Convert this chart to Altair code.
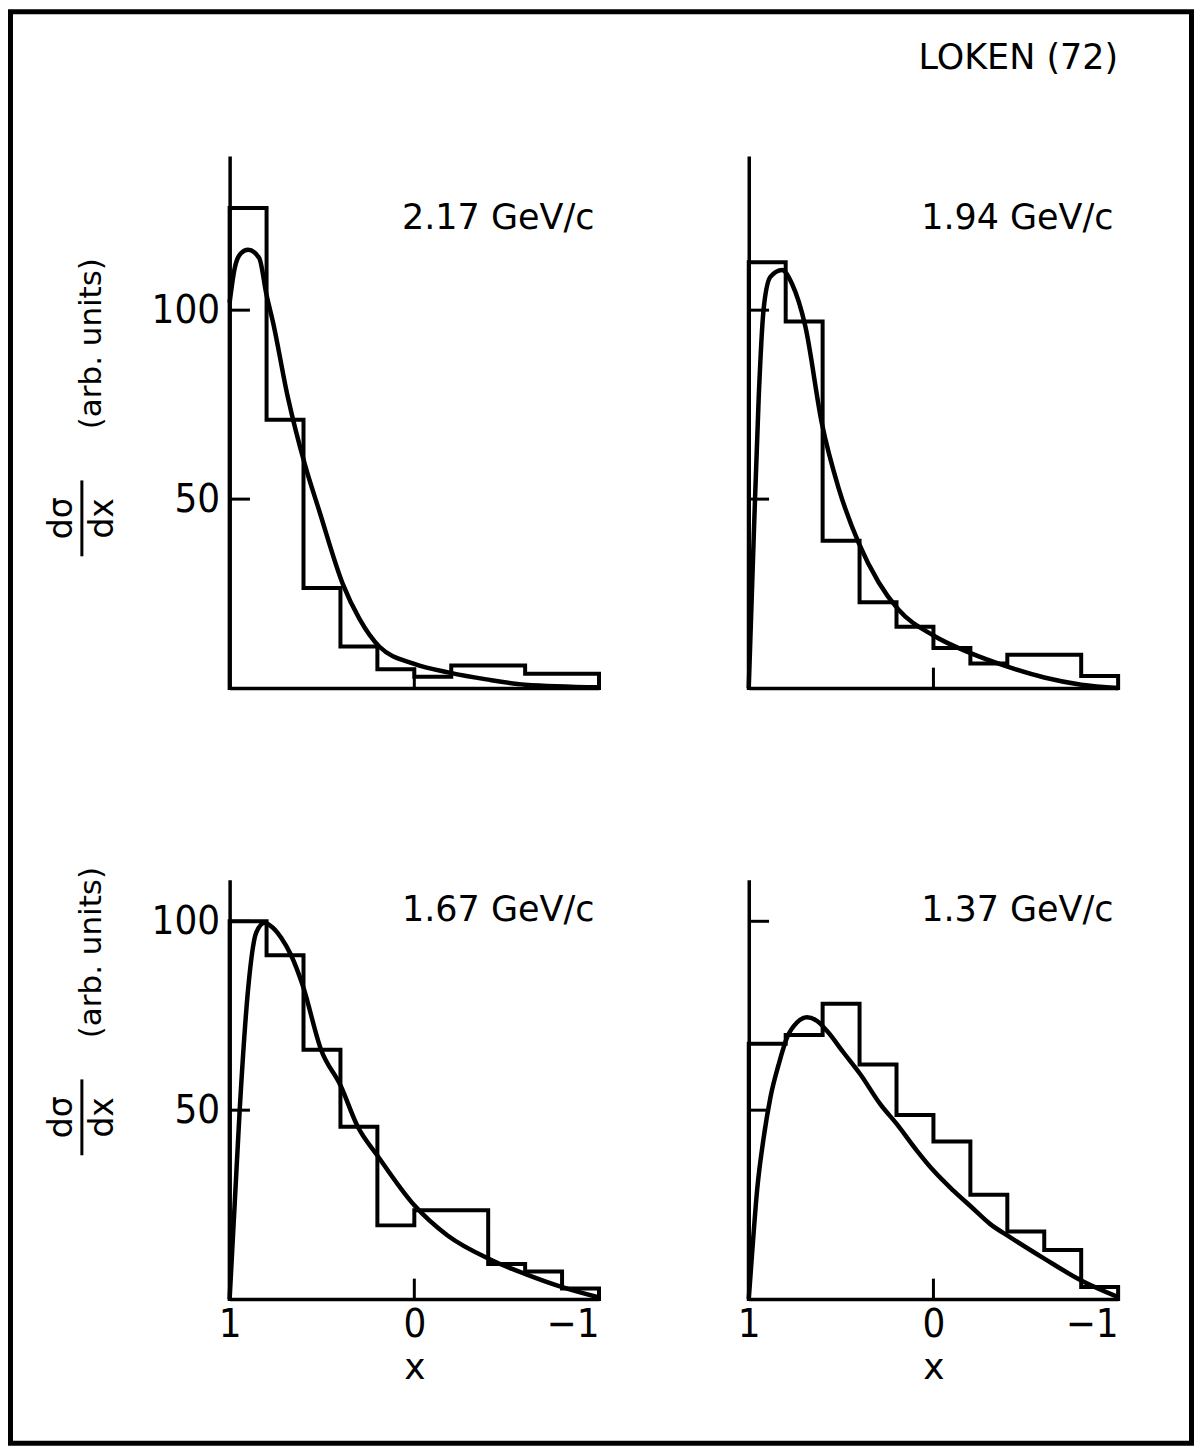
import altair as alt
import pandas as pd

# ---------------- data ----------------
bin_edges = [1.0, 0.8, 0.6, 0.4, 0.2, 0.0, -0.2, -0.4, -0.6, -0.8, -1.0]

hist_217 = [127, 71, 26.5, 11, 5, 3, 6, 6, 3.8, 3.8]
hist_194 = [112.7, 97, 39, 22.7, 16.2, 10.6, 6.5, 8.8, 8.8, 3.2]
hist_167 = [100, 91, 66, 45.6, 19.5, 23.5, 23.5, 9.3, 7.3, 2.8]
hist_137 = [67.6, 69.9, 78.2, 62.1, 48.7, 41.7, 27.6, 17.9, 13, 3.2]

curve_217_x = [1.0, 0.973, 0.94, 0.90, 0.84, 0.80, 0.766, 0.685, 0.59, 0.514,
               0.387, 0.297, 0.19, 0.0, -0.19, -0.39, -0.6, -1.0]
curve_217_y = [102, 111, 115, 116, 113.8, 104, 97, 77, 58.7, 46.8,
               27.5, 18.3, 11, 6.4, 4.1, 2.3, 0.9, 0.2]

curve_194_x = [1.0, 0.973, 0.946, 0.92, 0.883, 0.82, 0.766, 0.694, 0.604, 0.514,
               0.405, 0.297, 0.19, 0.0, -0.198, -0.405, -0.6, -0.8, -1.0]
curve_194_y = [0, 40, 77, 100, 108.8, 110.6, 107, 95.8, 70, 53,
               38.4, 28, 20.8, 13.9, 9.3, 5.6, 2.8, 0.9, 0]

curve_167_x = [1.0, 0.973, 0.946, 0.90, 0.856, 0.81, 0.784, 0.72, 0.667, 0.604,
               0.505, 0.4, 0.306, 0.2, 0.0, -0.18, -0.414, -0.613, -0.81, -1.0]
curve_167_y = [0, 24.8, 49.6, 82, 97, 99.6, 99, 95.6, 91, 83,
               66, 56.6, 45.6, 38, 24.8, 16.8, 10.4, 6.4, 3.0, 0.4]

curve_137_x = [1.0, 0.982, 0.955, 0.919, 0.883, 0.838, 0.793, 0.739, 0.685, 0.63,
               0.577, 0.486, 0.396, 0.288, 0.198, 0.09, 0.0, -0.108, -0.207,
               -0.306, -0.414, -0.6, -0.8, -1.0]
curve_137_y = [0, 12, 28.7, 42.8, 53.3, 62.1, 69.2, 73.2, 74.6, 73.6,
               71, 65.2, 59.5, 51.6, 46.3, 39.3, 34, 28.7, 24.3,
               19.9, 16.4, 10.7, 4.9, 0.5]

momenta = ["2.17 GeV/c", "1.94 GeV/c", "1.67 GeV/c", "1.37 GeV/c"]
source_label = "LOKEN (72)"
y_tick_values = [50, 100]
x_tick_values = [0]
x_label_values = [1, 0, -1]

FONT = "DejaVu Sans"
NUM_FONT = "Liberation Sans Narrow, DejaVu Sans Condensed, DejaVu Sans"
INK = "black"


def step_table(vals):
    rows = [{"x": bin_edges[0], "y": 0, "i": 0}]
    k = 1
    for j, v in enumerate(vals):
        rows.append({"x": bin_edges[j], "y": v, "i": k}); k += 1
        rows.append({"x": bin_edges[j + 1], "y": v, "i": k}); k += 1
    rows.append({"x": bin_edges[-1], "y": 0, "i": k})
    return pd.DataFrame(rows)


def curve_table(xs, ys):
    return pd.DataFrame({"x": xs, "y": ys, "i": list(range(len(xs)))})


one = alt.Data(values=[{}])


def panel(hist, cx, cy, label, ymax, height, y_labels, x_labels, label_y,
          extra=()):
    xs = alt.Scale(domain=[1, -1], nice=False, zero=False)
    ys = alt.Scale(domain=[0, ymax], nice=False, zero=False)
    if x_labels:
        xaxis = alt.Axis(values=x_label_values, ticks=False, grid=False,
                         labelExpr="datum.value > 0.5 ? '1' : (datum.value < -0.5 ? '\u22121' : '0')",
                         domainWidth=3.5, domainColor=INK, labelFont=NUM_FONT,
                         labelFontSize=40, labelColor=INK, labelPadding=6,
                         labelFlush=False, labelOverlap=False, labelBound=False,
                         labelAlign={"expr": "datum.value < -0.5 ? 'right' : 'center'"},
                         title="x", titleFont=FONT, titleFontSize=36,
                         titleFontWeight="normal", titleColor=INK, titlePadding=6)
    else:
        xaxis = alt.Axis(labels=False, ticks=False, grid=False, domainWidth=3.5,
                         domainColor=INK, title=None)
    if y_labels:
        yaxis = alt.Axis(values=y_tick_values, format="d", ticks=False, grid=False,
                         domainWidth=3.5, domainColor=INK, labelFont=NUM_FONT,
                         labelFontSize=40, labelColor=INK, labelPadding=10,
                         labelOverlap=False, title=None)
    else:
        yaxis = alt.Axis(labels=False, ticks=False, grid=False, domainWidth=3.5,
                         domainColor=INK, title=None)

    hist_layer = alt.Chart(step_table(hist)).mark_line(
        color=INK, strokeWidth=4, strokeJoin="miter", strokeCap="square"
    ).encode(
        x=alt.X("x:Q", scale=xs, axis=xaxis),
        y=alt.Y("y:Q", scale=ys, axis=yaxis),
        order="i:Q",
    )
    curve_layer = alt.Chart(curve_table(cx, cy)).mark_line(
        color=INK, strokeWidth=4.5, interpolate="monotone"
    ).encode(x="x:Q", y="y:Q", order="i:Q")

    ytick = alt.Chart(pd.DataFrame({"y": y_tick_values})).mark_rule(
        color=INK, strokeWidth=3
    ).encode(x=alt.datum(1), x2=alt.datum(0.89), y="y:Q")
    xtick = alt.Chart(pd.DataFrame({"x": x_tick_values})).mark_rule(
        color=INK, strokeWidth=3
    ).encode(x="x:Q", y=alt.datum(0), y2=alt.datum(5.4))

    lab = alt.Chart(one).mark_text(
        text=label, align="right", baseline="middle", font=FONT,
        fontSize=35, color=INK
    ).encode(x=alt.datum(-0.975), y=alt.datum(label_y))

    layers = [hist_layer, curve_layer, ytick, xtick, lab] + list(extra)
    return alt.layer(*layers).properties(width=370, height=height)


def ytitle(cy_arb, cy_frac):
    arb = alt.Chart(one).mark_text(
        text="(arb. units)", angle=270, align="center", baseline="middle",
        font=FONT, fontSize=31, color=INK
    ).encode(x=alt.value(-138), y=alt.value(cy_arb))
    num = alt.Chart(one).mark_text(
        text="dσ", angle=270, align="center", baseline="middle",
        font=FONT, fontSize=33, color=INK
    ).encode(x=alt.value(-168), y=alt.value(cy_frac))
    den = alt.Chart(one).mark_text(
        text="dx", angle=270, align="center", baseline="middle",
        font=FONT, fontSize=33, color=INK
    ).encode(x=alt.value(-127), y=alt.value(cy_frac))
    bar = alt.Chart(one).mark_rule(color=INK, strokeWidth=3).encode(
        x=alt.value(-148), y=alt.value(cy_frac - 38), y2=alt.value(cy_frac + 38)
    )
    return [arb, num, den, bar]


frame = alt.Chart(one).mark_rect(
    fillOpacity=0, stroke=INK, strokeWidth=5
).encode(
    x=alt.value(-219.5), x2=alt.value(963.5),
    y=alt.value(-144.5), y2=alt.value(1289.5)
)

loken = alt.Chart(one).mark_text(
    text=source_label, align="right", baseline="middle", font=FONT,
    fontSize=35, color=INK
).encode(x=alt.datum(-1), y=alt.datum(166.7))

TOP_MAX = 140.8
BOT_MAX = 111.0

p1 = panel(hist_217, curve_217_x, curve_217_y, momenta[0], TOP_MAX, 533,
           True, False, 124.4, extra=ytitle(188, 363) + [frame])
p2 = panel(hist_194, curve_194_x, curve_194_y, momenta[1], TOP_MAX, 533,
           False, False, 124.4, extra=[loken])
p3 = panel(hist_167, curve_167_x, curve_167_y, momenta[2], BOT_MAX, 420,
           True, True, 103, extra=ytitle(73, 238))
p4 = panel(hist_137, curve_137_x, curve_137_y, momenta[3], BOT_MAX, 420,
           False, True, 103)

chart = alt.concat(
    p1, p2, p3, p4, columns=2, bounds="flush",
    spacing={"row": 192, "column": 150}, padding=0, background="white",
).configure_view(stroke=None)

chart.save("out.html", embed_options={"renderer": "svg", "actions": False})
